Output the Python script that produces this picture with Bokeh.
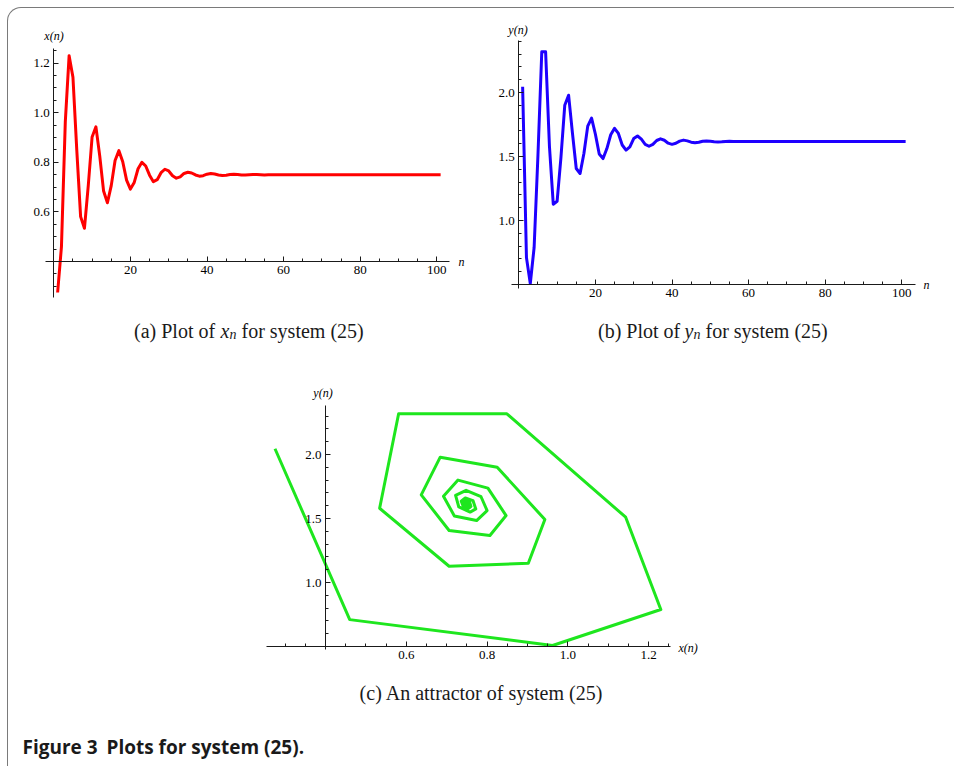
from bokeh.plotting import figure
from bokeh.models import Range1d, LinearAxis, FixedTicker, PrintfTickFormatter, Label
from bokeh.embed import file_html
from bokeh.resources import INLINE

# ---------------- data ----------------
n_vals = list(range(1, 102))

x_vals = [
    0.275, 0.460, 0.962, 1.230, 1.143, 0.849, 0.581, 0.534, 0.706, 0.902,
    0.943, 0.825, 0.684, 0.637, 0.706, 0.807, 0.847, 0.802, 0.728, 0.692,
    0.719, 0.774, 0.800, 0.785, 0.748, 0.722, 0.730, 0.758, 0.772, 0.765,
    0.746, 0.736, 0.741, 0.755, 0.760, 0.757, 0.749, 0.744, 0.746, 0.752,
    0.755, 0.753, 0.749, 0.747, 0.748, 0.751, 0.752, 0.751, 0.749, 0.749,
    0.750, 0.751, 0.751, 0.750, 0.749, 0.750, 0.750, 0.750, 0.750, 0.750,
    0.750, 0.750, 0.750, 0.750, 0.750, 0.750, 0.750, 0.750, 0.750, 0.750,
    0.750, 0.750, 0.750, 0.750, 0.750, 0.750, 0.750, 0.750, 0.750, 0.750,
    0.750, 0.750, 0.750, 0.750, 0.750, 0.750, 0.750, 0.750, 0.750, 0.750,
    0.750, 0.750, 0.750, 0.750, 0.750, 0.750, 0.750, 0.750, 0.750, 0.750,
    0.750,
]

y_vals = [
    2.045, 0.710, 0.508, 0.789, 1.510, 2.318, 2.318, 1.580, 1.127, 1.150,
    1.492, 1.900, 1.979, 1.685, 1.406, 1.367, 1.523, 1.737, 1.800, 1.674,
    1.520, 1.484, 1.562, 1.670, 1.720, 1.680, 1.590, 1.550, 1.575, 1.640,
    1.660, 1.635, 1.595, 1.580, 1.595, 1.625, 1.638, 1.627, 1.604, 1.595,
    1.603, 1.620, 1.628, 1.622, 1.612, 1.607, 1.611, 1.619, 1.622, 1.619,
    1.615, 1.613, 1.615, 1.618, 1.619, 1.618, 1.617, 1.617, 1.617, 1.617,
    1.617, 1.617, 1.617, 1.617, 1.617, 1.617, 1.617, 1.617, 1.617, 1.617,
    1.617, 1.617, 1.617, 1.617, 1.617, 1.617, 1.617, 1.617, 1.617, 1.617,
    1.617, 1.617, 1.617, 1.617, 1.617, 1.617, 1.617, 1.617, 1.617, 1.617,
    1.617, 1.617, 1.617, 1.617, 1.617, 1.617, 1.617, 1.617, 1.617, 1.617,
    1.617,
]

# tick labels
n_ticks = [20, 40, 60, 80, 100]
xa_ticks = [0.6, 0.8, 1.0, 1.2]
yb_ticks = [1.0, 1.5, 2.0]
xc_ticks = [0.6, 0.8, 1.0, 1.2]
yc_ticks = [1.0, 1.5, 2.0]

caption_a = ["(a) Plot of", "x", "n", "for system (25)"]
caption_b = ["(b) Plot of", "y", "n", "for system (25)"]
caption_c = "(c) An attractor of system (25)"
fig_caption = ["Figure 3", "Plots for system (25)."]

# ---------------- geometry ----------------
W_FIG, H_FIG, OFF = 947, 759, 8


def hrange(u0, p0, s):
    q = p0 - OFF
    return Range1d(u0 - q / s, u0 + (W_FIG - q) / s)


def vrange(v0, p0, s):
    q = p0 - OFF
    return Range1d(v0 - (H_FIG - q) / s, v0 + q / s)


p = figure(width=W_FIG, height=H_FIG,
           x_range=Range1d(0, W_FIG), y_range=Range1d(H_FIG, 0),
           x_axis_type=None, y_axis_type=None,
           toolbar_location=None, output_backend="svg",
           min_border=0, outline_line_color=None)
p.background_fill_color = None
p.border_fill_color = None
p.styles = {"margin-left": "7px", "margin-top": "7px",
            "border-left": "1px solid #7a7a7a", "border-top": "1px solid #7a7a7a",
            "border-top-left-radius": "14px"}

p.extra_x_ranges = {
    "ax": hrange(0, 53.3, 3.83),
    "bx": hrange(0, 518.3, 3.83),
    "cx": hrange(0.4, 325, 404),
}
p.extra_y_ranges = {
    "ay": vrange(0.4, 261, 248),
    "by": vrange(0.5, 284, 128),
    "cy": vrange(0.5, 646, 128),
}

TICK_FONT = "Liberation Serif"


def style_axis(ax):
    ax.axis_line_color = "#1a1a1a"
    ax.axis_line_width = 1
    ax.major_tick_line_color = "#1a1a1a"
    ax.minor_tick_line_color = "#1a1a1a"
    ax.major_tick_in = 5
    ax.major_tick_out = 0
    ax.minor_tick_in = 3
    ax.minor_tick_out = 0
    ax.major_label_text_font = TICK_FONT
    ax.major_label_text_font_size = "13px"
    ax.major_label_text_color = "#000000"
    ax.major_label_standoff = 4


def minor(start, stop, step, skip):
    out = []
    k = 0
    while True:
        v = round(start + k * step, 4)
        if v > stop + 1e-9:
            break
        if all(abs(v - s) > 1e-6 for s in skip):
            out.append(v)
        k += 1
    return out


def add_axes(xr, yr, xcross, ycross, xb, yb, xt, xm, yt, ym, xf, yf):
    xa = LinearAxis(x_range_name=xr, y_range_name=yr, fixed_location=xcross,
                    bounds=xb, ticker=FixedTicker(ticks=xt, minor_ticks=xm),
                    formatter=PrintfTickFormatter(format=xf))
    style_axis(xa)
    p.add_layout(xa, "below")
    ya = LinearAxis(x_range_name=xr, y_range_name=yr, fixed_location=ycross,
                    bounds=yb, ticker=FixedTicker(ticks=yt, minor_ticks=ym),
                    formatter=PrintfTickFormatter(format=yf))
    style_axis(ya)
    p.add_layout(ya, "left")


# ---- (a) x(n) ----
p.line(n_vals, x_vals, x_range_name="ax", y_range_name="ay",
       line_color="#ff0000", line_width=3, line_join="round")
add_axes("ax", "ay", 0.4, 0, (-2.1, 103.3), (0.255, 1.259),
         n_ticks, minor(5, 100, 5, n_ticks),
         xa_ticks, minor(0.3, 1.25, 0.05, xa_ticks + [0.4]), "%d", "%.1f")

# ---- (b) y(n) ----
p.line(n_vals, y_vals, x_range_name="bx", y_range_name="by",
       line_color="#1e00ff", line_width=3, line_join="round")
add_axes("bx", "by", 0.5, 0, (-2.0, 103.6), (0.47, 2.41),
         n_ticks, minor(5, 100, 5, n_ticks),
         yb_ticks, minor(0.6, 2.4, 0.1, yb_ticks), "%d", "%.1f")

# ---- (c) attractor ----
p.line(x_vals, y_vals, x_range_name="cx", y_range_name="cy",
       line_color="#1ee61e", line_width=3, line_join="round")
add_axes("cx", "cy", 0.5, 0.4, (0.254, 1.255), (0.48, 2.383),
         xc_ticks, minor(0.3, 1.25, 0.05, xc_ticks + [0.4]),
         yc_ticks, minor(0.6, 2.3, 0.1, yc_ticks), "%.1f", "%.1f")


def lab(x, y, text, size="12px", style="italic", font=TICK_FONT,
        align="center", baseline="middle", color="#000000"):
    p.add_layout(Label(x=x - OFF, y=y - OFF, text=text, text_font=font,
                       text_font_size=size, text_font_style=style,
                       text_align=align, text_baseline=baseline,
                       text_color=color))


# axis titles
lab(53.5, 35, "x(n)")
lab(458, 261, "n", align="left")
lab(517.5, 29, "y(n)")
lab(923, 284, "n", align="left")
lab(322.5, 392, "y(n)")
lab(678, 647, "x(n)", align="left")

# captions (a), (b)
CAP_FONT = "Liberation Serif"
CAP_COL = "#1a1a1a"
BASE = 330
for x0, parts in ((133.5, caption_a), (597.5, caption_b)):
    w_head, w_var, w_sub, w_space = 86.6, 8.9, 7.0, 5.0
    lab(x0, BASE, parts[0], size="20px", style="normal", font=CAP_FONT,
        align="left", baseline="alphabetic", color=CAP_COL)
    lab(x0 + w_head, BASE, parts[1], size="20px", style="italic", font=CAP_FONT,
        align="left", baseline="alphabetic", color=CAP_COL)
    lab(x0 + w_head + w_var, BASE + 4, parts[2], size="14px", style="italic",
        font=CAP_FONT, align="left", baseline="alphabetic", color=CAP_COL)
    lab(x0 + w_head + w_var + w_sub + w_space, BASE, parts[3], size="20px",
        style="normal", font=CAP_FONT, align="left", baseline="alphabetic",
        color=CAP_COL)

lab(481, 692, caption_c, size="20px", style="normal", font=CAP_FONT,
    align="center", baseline="alphabetic", color=CAP_COL)

lab(22, 746, fig_caption[0], size="19px", style="bold", font="Open Sans",
    align="left", baseline="alphabetic", color=CAP_COL)
lab(106, 746, fig_caption[1], size="19px", style="bold", font="Open Sans",
    align="left", baseline="alphabetic", color=CAP_COL)

open("out.html", "w").write(file_html(p, INLINE))
